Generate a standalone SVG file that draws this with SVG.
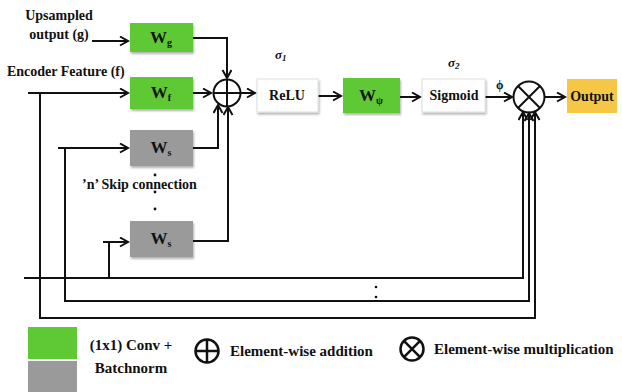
<svg xmlns="http://www.w3.org/2000/svg" width="622" height="392" viewBox="0 0 622 392">
<defs>
<filter id="sh" x="-20%" y="-20%" width="140%" height="150%">
<feDropShadow dx="1" dy="2" stdDeviation="1.2" flood-color="#000" flood-opacity="0.3"/>
</filter>
<marker id="ah" markerUnits="userSpaceOnUse" markerWidth="12" markerHeight="12" refX="9" refY="5" orient="auto">
<path d="M1,0.5 L9,5 L1,9.5" fill="none" stroke="#111" stroke-width="2"/>
</marker>
</defs>
<style>
text{font-family:"Liberation Serif","Times New Roman",serif;font-weight:bold;fill:#111}
.g{fill:#5ec935}
.s{fill:#9a9a9a}
.w{fill:#fff;stroke:#ddd;stroke-width:1}
.o{fill:#f6c744}
.ln{fill:none;stroke:#111;stroke-width:2}
.ar{marker-end:url(#ah)}
.lbl{font-size:14px}
.wl{font-size:17px;text-anchor:middle}
.sub{font-size:10px}
.bt{font-size:14px;text-anchor:middle}
.leg{font-size:15px}
.op{fill:none;stroke:#111;stroke-width:2}
</style>
<rect width="622" height="392" fill="#fff"/>

<g id="connectors">
<path class="ln ar" d="M92,41 H128"/>
<path class="ln ar" d="M28,93 H128"/>
<path class="ln ar" d="M193,38 H227 V78"/>
<path class="ln ar" d="M193,93 H211"/>
<path class="ln ar" d="M193,148 H218 V105"/>
<path class="ln ar" d="M193,241 H228 V107"/>
<path class="ln ar" d="M241,93 H255"/>
<path class="ln ar" d="M318,96 H341"/>
<path class="ln ar" d="M400,97 H420"/>
<path class="ln ar" d="M485,97 H512"/>
<path class="ln ar" d="M545,97 H565"/>
<path class="ln ar" d="M40,93 V318 H535 V112"/>
<path class="ln ar" d="M58,148 H128"/>
<path class="ln ar" d="M65,148 V301 H529 V113"/>
<path class="ln ar" d="M103,242 H128"/>
<path class="ln" d="M109,242 V278"/>
<path class="ln ar" d="M24,278 H523 V112"/>
</g>

<g id="label-upsampled">
<text class="lbl" x="59" y="20" text-anchor="middle">Upsampled</text>
<text class="lbl" x="59" y="39" text-anchor="middle">output (g)</text>
</g>
<g id="label-encoder">
<text class="lbl" x="7" y="76">Encoder Feature (f)</text>
</g>

<g id="Wg">
<rect class="g" x="130" y="23" width="63" height="29" filter="url(#sh)"/>
<text class="wl" x="161" y="43">W<tspan class="sub" dy="3">g</tspan></text>
</g>
<g id="Wf">
<rect class="g" x="130" y="77" width="63" height="32" filter="url(#sh)"/>
<text class="wl" x="161" y="98">W<tspan class="sub" dy="3">f</tspan></text>
</g>
<g id="Ws1">
<rect class="s" x="130" y="130" width="63" height="36" filter="url(#sh)"/>
<text class="wl" x="161" y="153">W<tspan class="sub" dy="3">s</tspan></text>
</g>
<g id="Ws2">
<rect class="s" x="130" y="221" width="63" height="36" filter="url(#sh)"/>
<text class="wl" x="161" y="244">W<tspan class="sub" dy="3">s</tspan></text>
</g>

<g id="skip-label">
<text class="lbl" x="82" y="189">’n’ Skip connection</text>
<circle cx="155" cy="175" r="1.4" fill="#111"/>
<circle cx="155" cy="192" r="1.4" fill="#111"/>
<circle cx="155" cy="209" r="1.4" fill="#111"/>
</g>

<g id="add">
<circle class="op" cx="227" cy="93" r="13.5"/>
<path class="op" d="M213.5,93 H240.5 M227,79.5 V106.5"/>
</g>

<g id="relu">
<text x="275" y="59" font-size="13" font-style="italic" font-weight="normal">σ<tspan font-size="9" dy="2">1</tspan></text>
<rect class="w" x="257" y="79" width="61" height="33" filter="url(#sh)"/>
<text class="bt" x="287" y="100">ReLU</text>
</g>

<g id="Wn">
<rect class="g" x="343" y="78" width="57" height="35" filter="url(#sh)"/>
<text class="wl" x="371" y="101">W<tspan class="sub" dy="3">ψ</tspan></text>
</g>

<g id="sigmoid">
<text x="448" y="67" font-size="13" font-style="italic" font-weight="normal">σ<tspan font-size="9" dy="2">2</tspan></text>
<rect class="w" x="422" y="79" width="63" height="33" filter="url(#sh)"/>
<text class="bt" x="454" y="100" font-size="13">Sigmoid</text>
</g>

<g id="phi">
<text x="496" y="89" font-size="12">ϕ</text>
</g>

<g id="mult">
<circle class="op" cx="529" cy="97" r="15.5"/>
<path class="op" d="M518,86 L540,108 M540,86 L518,108"/>
</g>

<g id="output">
<rect class="o" x="567" y="79" width="50" height="34"/>
<text class="bt" x="592" y="101">Output</text>
</g>

<g id="dots">
<circle cx="376" cy="287" r="1.3" fill="#111"/>
<circle cx="376" cy="297" r="1.3" fill="#111"/>
</g>

<g id="legend">
<rect class="g" x="28" y="327" width="49" height="32"/>
<rect class="s" x="28" y="361" width="49" height="31"/>
<text class="leg" x="131" y="350" text-anchor="middle">(1x1) Conv +</text>
<text class="leg" x="131" y="373" text-anchor="middle">Batchnorm</text>
<circle cx="207" cy="351" r="11.5" fill="none" stroke="#111" stroke-width="2.5"/>
<path d="M195.5,351 H218.5 M207,339.5 V362.5" stroke="#111" stroke-width="2.5"/>
<text class="leg" x="230" y="356">Element-wise addition</text>
<circle cx="412" cy="349" r="11.5" fill="none" stroke="#111" stroke-width="2.5"/>
<path d="M403.9,340.9 L420.1,357.1 M420.1,340.9 L403.9,357.1" stroke="#111" stroke-width="2.5"/>
<text class="leg" x="434" y="354">Element-wise multiplication</text>
</g>
</svg>
